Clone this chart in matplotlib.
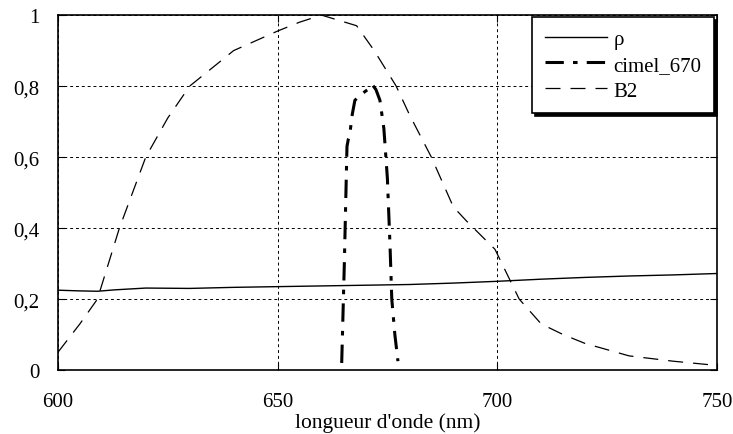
import matplotlib.pyplot as plt
from matplotlib.ticker import FuncFormatter

# reflectance rho
rho_wl = [600, 605, 609, 613, 620, 630, 640, 650, 660, 670, 680, 690, 700, 710, 720, 730, 740, 750]
rho_val = [0.225, 0.223, 0.222, 0.226, 0.231, 0.230, 0.233, 0.235, 0.237, 0.239, 0.241, 0.245, 0.250, 0.256, 0.261, 0.265, 0.268, 0.272]

# cimel 670 filter
cimel_wl = [664.6, 665.2, 665.8, 666.1, 666.4, 667.0, 667.6, 668.5, 669.4, 670.5, 671.5, 672.4, 673.3, 674.2, 675.0, 675.6, 676.0, 676.7, 677.4]
cimel_val = [0.02, 0.3, 0.63, 0.65, 0.66, 0.72, 0.76, 0.77, 0.78, 0.79, 0.805, 0.79, 0.76, 0.68, 0.54, 0.35, 0.2, 0.1, 0.025]

# B2 band
b2_wl = [600, 605, 609, 614, 620, 625, 630, 640, 650, 655, 660, 664, 668, 672, 677, 680, 685, 690, 693, 699.5, 705, 710, 715, 720, 730, 740, 750]
b2_val = [0.05, 0.13, 0.2, 0.4, 0.6, 0.71, 0.8, 0.9, 0.955, 0.98, 1.0, 0.985, 0.97, 0.9, 0.8, 0.72, 0.6, 0.46, 0.42, 0.34, 0.2, 0.13, 0.1, 0.075, 0.04, 0.025, 0.013]

plt.rcParams['font.family'] = ['Liberation Serif', 'DejaVu Serif']
fig = plt.figure(figsize=(7.33, 4.35), dpi=100)
ax = fig.add_axes([0.079, 0.147, 0.899, 0.816])

ax.plot(rho_wl, rho_val, color='black', lw=1.0, label='ρ')
ax.plot(cimel_wl, cimel_val, color='black', lw=2.2, dashes=(6, 3, 1.5, 3), label='cimel_670')
ax.plot(b2_wl, b2_val, color='black', lw=0.9, dashes=(12, 8), label='B2')

ax.set_xlim(600, 750)
ax.set_ylim(0, 1)
ax.set_xticks([600, 650, 700, 750])
ax.set_yticks([0, 0.2, 0.4, 0.6, 0.8, 1])
ax.yaxis.set_major_formatter(FuncFormatter(lambda v, p: ('%g' % round(v, 1)).replace('.', ',')))
ax.grid(True, color='black', lw=0.7, dashes=(3, 3))
ax.tick_params(direction='in', top=True, right=True, length=5, labelsize=15)
ax.tick_params(axis='x', pad=16)
ax.tick_params(axis='y', pad=13)
for s in ax.spines.values():
    s.set_linewidth(1.2)

ax.set_xlabel("longueur d'onde (nm)", fontsize=15.5, va='center')
ax.xaxis.set_label_coords(0.5, -0.146)

leg = ax.legend(loc='upper right', bbox_to_anchor=(0.9955, 0.995), fontsize=15,
                fancybox=False, edgecolor='black', framealpha=1,
                shadow={'color': 'black', 'alpha': 1}, handlelength=3.0,
                handletextpad=0.3, borderpad=0.6, labelspacing=0.3,
                borderaxespad=0)
leg.get_frame().set_linewidth(1.2)

fig.savefig('out.png', dpi=100)
